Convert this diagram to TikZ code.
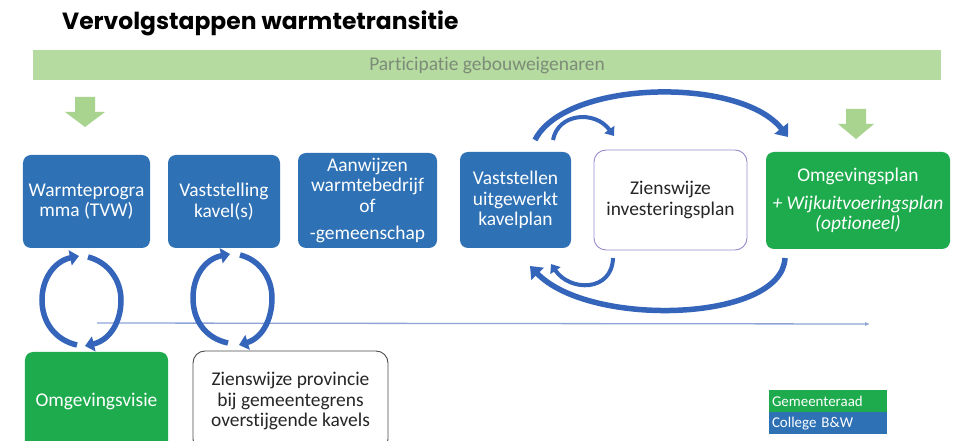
\documentclass[tikz,border=0pt]{standalone}
\usepackage{fontspec}
\setmainfont{Carlito}[Ligatures=NoCommon]
\newfontfamily\titlefont{Poppins}
\usetikzlibrary{arrows.meta,positioning}

\definecolor{stepblue}{HTML}{2E71B5}
\definecolor{stepgreen}{HTML}{1DAB4D}
\definecolor{bargreen}{HTML}{B5DBA0}
\definecolor{bartext}{HTML}{7D8C78}
\definecolor{hintgreen}{HTML}{A9D48F}
\definecolor{arcblue}{HTML}{3565BA}
\definecolor{lineblue}{HTML}{8EA3D6}
\definecolor{violetline}{HTML}{9A88CC}

\tikzset{
  boxtext/.style={font=\fontsize{19.5}{20.5}\selectfont, align=center, inner sep=2bp},
  bluebox/.style={boxtext, rounded corners=8bp, fill=stepblue, text=white},
  greenbox/.style={boxtext, rounded corners=8bp, fill=stepgreen, text=white},
  whitebox/.style={boxtext, rounded corners=12bp, fill=white, text=black!85, line width=0.9bp},
  legendbox/.style={font=\fontsize{15}{17}\selectfont, text=white, text width=112bp, align=left,
    minimum height=22bp, inner xsep=3bp, inner ysep=0bp},
  bigarc/.style={arcblue, line width=5.5bp, -{Triangle[width=17bp,length=11bp]}},
  looparc/.style={arcblue, line width=5.5bp, -{Triangle[width=15bp,length=9bp]}},
  smallarc/.style={arcblue, line width=4bp, -{Triangle[width=12bp,length=8bp]}},
  timeline/.style={lineblue, line width=1.3bp, -{Latex[length=5bp,width=4bp]}},
}

\begin{document}
\begin{tikzpicture}[x=1bp,y=-1bp]
\clip (0,0) rectangle (957,441);
\fill[white] (0,0) rectangle (957,441);

% title and participation bar
\node[anchor=west, font=\titlefont\bfseries\fontsize{23.5}{26}\selectfont, inner sep=0bp] (title) at (62,23) {Vervolgstappen warmtetransitie};
\node[fill=bargreen, minimum width=908bp, minimum height=30bp, inner sep=0bp,
  text=bartext, font=\fontsize{19.5}{20}\selectfont] (bar) at (487,65) {Participatie gebouweigenaren};
\fill[hintgreen] (75,97) -- (95,97) -- (95,112) -- (105,112) -- (85,127) -- (65,112) -- (75,112) -- cycle;
\fill[hintgreen] (846,109) -- (866,109) -- (866,124) -- (874,124) -- (856,139) -- (838,124) -- (846,124) -- cycle;

% steps
\node[bluebox, minimum width=127bp, minimum height=93bp] (warmte) at (86.5,201.5) {Warmteprogra\\mma (TVW)};
\node[bluebox, minimum width=112bp, minimum height=93bp] (kavels) at (224,201.5) {Vaststelling\\kavel(s)};
\node[bluebox, minimum width=139bp, minimum height=95bp] (aanwijzen) at (367.5,200.5) {Aanwijzen\\warmtebedrijf\\of\\[7bp]-gemeenschap};
\node[bluebox, minimum width=111bp, minimum height=96bp] (kavelplan) at (515.5,200) {Vaststellen\\uitgewerkt\\kavelplan};
\node[whitebox, draw=violetline, minimum width=153bp, minimum height=100bp] (investering) at (670.5,200) {Zienswijze\\investeringsplan};
\node[greenbox, minimum width=184bp, minimum height=97bp] (omgplan) at (858,200.5) {Omgevingsplan\\[7bp]\textit{+ Wijkuitvoeringsplan}\\\textit{(optioneel)}};

\node[greenbox, minimum width=143bp, minimum height=98bp] (visie) at (96.5,401) {Omgevingsvisie};
\node[whitebox, draw=black!70, minimum width=195bp, minimum height=100bp] (provincie) at (290.5,401) {Zienswijze provincie\\bij gemeentegrens\\overstijgende kavels};

% legend
\node[legendbox, fill=stepgreen] (raad) at (828,401) {Gemeenteraad};
\node[legendbox, fill=stepblue, below=0bp of raad] (college) {College B\&W};

% time line
\coordinate (tl0) at (97,323);
\coordinate (tl1) at (870,324);
\draw[timeline] (tl0) -- (tl1);

% loops between steps
\coordinate (v1) at (77,345);  \coordinate (w1) at (79,256);
\coordinate (w2) at (88,257);  \coordinate (v2) at (85,346);
\draw[looparc] (v1) .. controls (55,340) and (42,322) .. (42,300) .. controls (42,278) and (55,261) .. (w1);
\draw[looparc] (w2) .. controls (108,262) and (121,280) .. (121,300) .. controls (121,322) and (110,340) .. (v2);

\coordinate (p1) at (228,343); \coordinate (k1) at (230,254);
\coordinate (k2) at (240,255); \coordinate (p2) at (239,345);
\draw[looparc] (p1) .. controls (205,338) and (193,320) .. (193,298) .. controls (193,276) and (205,259) .. (k1);
\draw[looparc] (k2) .. controls (260,260) and (272,278) .. (272,298) .. controls (272,320) and (262,338) .. (p2);

\coordinate (t1) at (535,140); \coordinate (t2) at (788,137);
\coordinate (t3) at (553,140); \coordinate (t4) at (614,136);
\draw[bigarc] (t1) .. controls (565,80) and (740,76) .. (t2);
\draw[smallarc] (t3) .. controls (558,113) and (595,110) .. (t4);

\coordinate (b1) at (785,258); \coordinate (b2) at (530,266);
\coordinate (b3) at (613,258); \coordinate (b4) at (551,264);
\draw[bigarc] (b1) .. controls (782,322) and (590,328) .. (b2);
\draw[smallarc] (b3) .. controls (612,292) and (570,292) .. (b4);
\end{tikzpicture}
\end{document}
